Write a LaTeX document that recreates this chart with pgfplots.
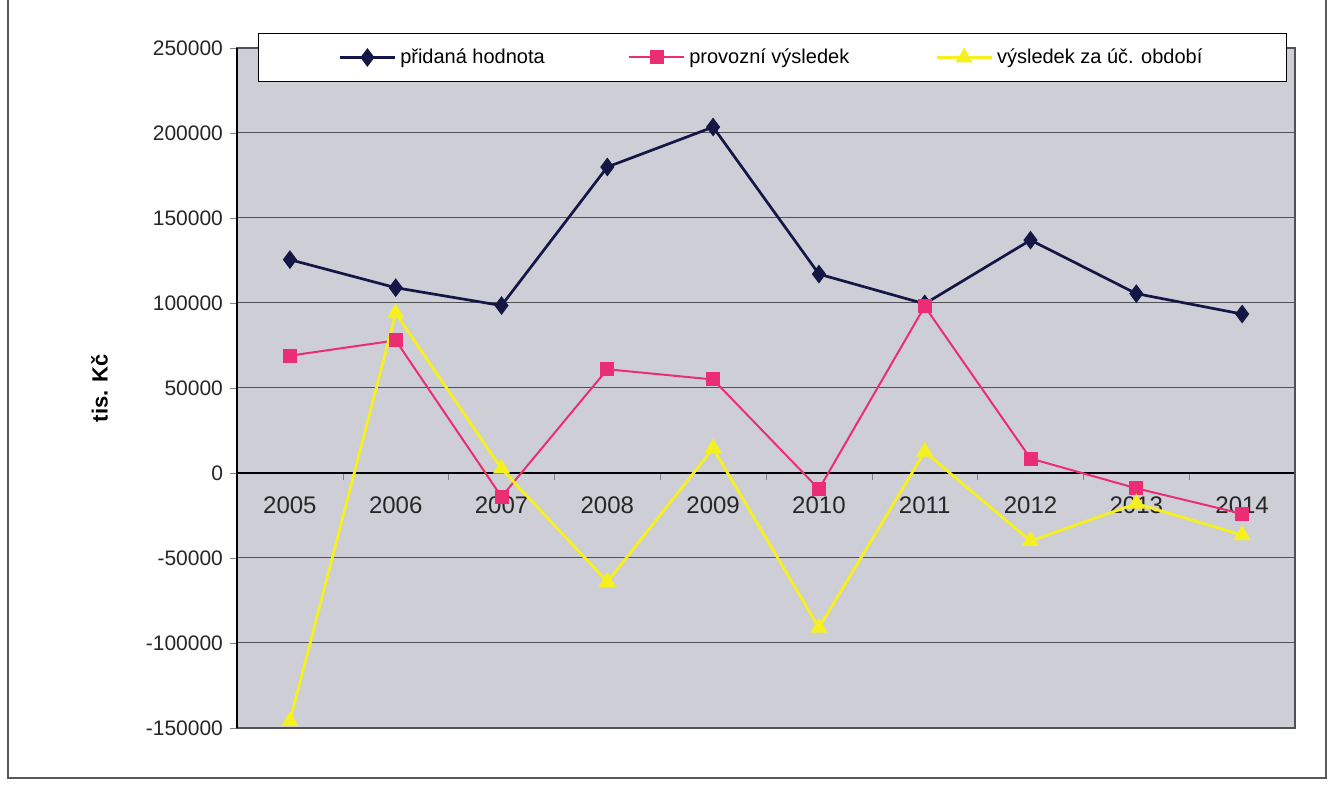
\documentclass[border=0pt]{standalone}
\usepackage{fontspec}
\setmainfont{Liberation Sans}
\usepackage{pgfplots}
\pgfplotsset{compat=1.18}
\definecolor{navy}{RGB}{20,22,70}
\definecolor{hpink}{RGB}{235,45,115}
\definecolor{yel}{RGB}{245,240,30}
\definecolor{plotbg}{RGB}{206,207,214}
\definecolor{gridc}{RGB}{80,80,85}
\begin{document}
\begin{tikzpicture}
\path[use as bounding box, fill=white] (0,0) rectangle (668pt,392.5pt);
\draw[gray!70!black, line width=0.6pt] (4pt,392.5pt) -- (4pt,3.5pt) -- (663pt,3.5pt) -- (663pt,392.5pt);
\begin{axis}[
  scale only axis, width=529pt, height=340pt,
  at={(118.5pt,28.5pt)}, anchor=south west,
  xmin=-0.5, xmax=9.5, ymin=-150000, ymax=250000,
  axis x line*=middle, axis y line*=left,
  axis line style={black, line width=0.8pt},
  axis background/.style={fill=plotbg},
  ytick={-150000,-100000,...,250000},
  ymajorgrids, grid style={gridc, line width=0.5pt},
  scaled y ticks=false,
  yticklabel style={/pgf/number format/fixed, /pgf/number format/precision=0, /pgf/number format/1000 sep={}, /pgf/number format/assume math mode=true, font=\fontsize{10.5pt}{12pt}\selectfont, color=black!85},
  tick align=outside, major tick length=3.5pt,
  xtick={0.5,1.5,...,8.5}, xticklabels={},
  extra x ticks={0,1,...,9},
  extra x tick labels={2005,2006,2007,2008,2009,2010,2011,2012,2013,2014},
  extra x tick style={major tick length=0pt, tick label style={font=\fontsize{12pt}{14pt}\selectfont, color=black!85, yshift=-8.5pt}},
  ylabel={\textbf{tis. Kč}},
  every axis y label/.style={at={(axis description cs:-0.13,0.5)}, rotate=90, anchor=center, font=\fontsize{11pt}{13pt}\selectfont},
  legend columns=3,
  legend image code/.code={\draw[mark repeat=2,mark phase=2] plot coordinates {(0pt,0pt) (13.75pt,0pt) (27.5pt,0pt)};},
  legend style={at={(axis description cs:0.0198,1.022)}, anchor=north west, draw=black, line width=0.6pt, fill=white,
    font=\fontsize{10pt}{12pt}\selectfont, inner xsep=40pt, inner ysep=5.5pt},
  legend cell align=left,
  clip=false,
]
\addplot[navy, line width=1.35pt, mark=diamond*, mark size=3.6pt, mark options={solid, fill=navy}]
coordinates {(0,125500) (1,109000) (2,98500) (3,180000) (4,203500) (5,117000) (6,99500) (7,137000) (8,105500) (9,93500)};
\addlegendentry{\makebox[112pt][l]{přidaná hodnota}}
\addplot[hpink, line width=1pt, mark=square*, mark size=3pt, mark options={solid, fill=hpink}]
coordinates {(0,69000) (1,78000) (2,-14000) (3,61000) (4,55000) (5,-9500) (6,98000) (7,8500) (8,-9000) (9,-24000)};
\addlegendentry{\makebox[121pt][l]{provozní výsledek}}
\addplot[yel, line width=1.4pt, mark=triangle*, mark size=3.6pt, mark options={solid, fill=yel}]
coordinates {(0,-146000) (1,94000) (2,2500) (3,-64000) (4,14500) (5,-91000) (6,12500) (7,-40000) (8,-18000) (9,-36500)};
\addlegendentry{výsledek za úč. období}
\draw[gridc, line width=0.6pt] (rel axis cs:0,0) rectangle (rel axis cs:1,1);
\draw[black, line width=0.9pt] (rel axis cs:0,0) -- (rel axis cs:0,1);
\end{axis}
\end{tikzpicture}
\end{document}
